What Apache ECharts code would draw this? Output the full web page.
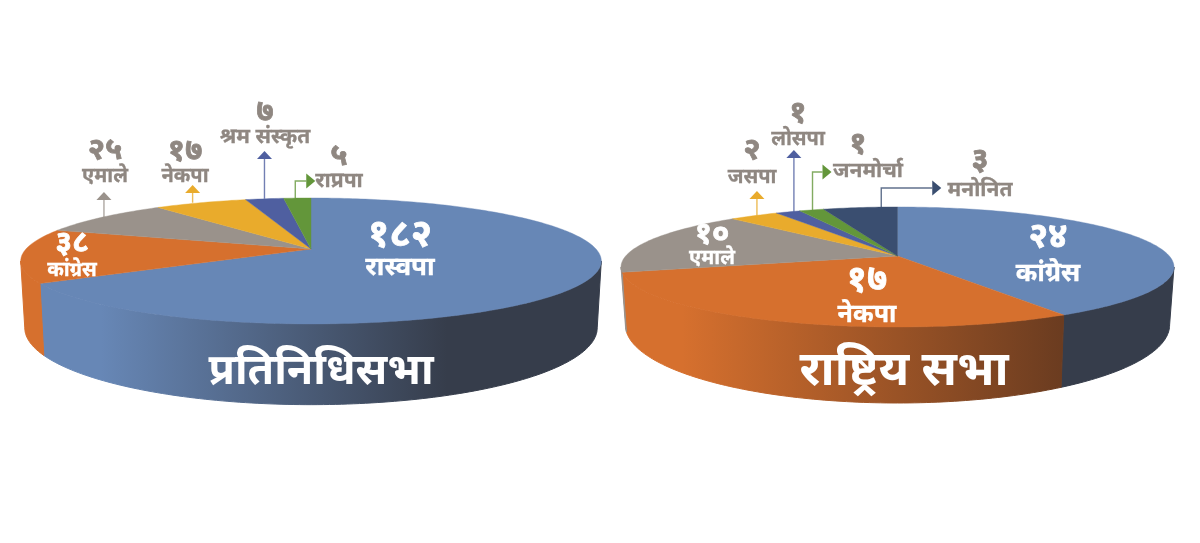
<!DOCTYPE html>
<html><head><meta charset="utf-8">
<style>html,body{margin:0;padding:0;background:#fff}#c{width:1200px;height:543px}</style>
<script src="https://cdn.jsdelivr.net/npm/echarts@6/dist/echarts.min.js"></script>
</head><body><div id="c"></div>
<script>
// ---- data ----
const houseParties = ['रास्वपा','कांग्रेस','एमाले','नेकपा','श्रम संस्कृत','राप्रपा'];
const houseSeats   = [182,38,25,17,7,5];
const senateParties = ['कांग्रेस','नेकपा','एमाले','जसपा','लोसपा','जनमोर्चा','मनोनित'];
const senateSeats   = [24,17,10,2,1,1,3];
const chartTitles = ['प्रतिनिधिसभा','राष्ट्रिय सभा'];

// ---- layout / style ----
const FONT = '"Noto Sans","Noto Sans Devanagari","Lohit Devanagari","Mukta","Hind",sans-serif';
const BLUE='#6787b6',ORANGE='#d6702e',GREY='#9a928b',YEL='#e9ab2c',IND='#4f5fa0',GRN='#63963a',NAVY='#3a4e70',DARK='#363d4b',LABEL='#8f8781';
function hGrad(x0,x1,stops){return new echarts.graphic.LinearGradient(x0,0,x1,0,stops,true);}
const houseLayout = {
  cx:311, top:{f:285,g:60.7,k:0.19,c:249}, bottom:{f:281,g:74,k:0.19,c:313.3},
  fills:[BLUE,ORANGE,GREY,YEL,IND,GRN],
  sides:[hGrad(40,447,[{offset:0,color:BLUE},{offset:0.15,color:BLUE},{offset:1,color:DARK}]),ORANGE,GREY,YEL,IND,GRN],
  labels:[
    {x:400,ny:235,ns:38,ty:268,ts:26,c:'#fff'},
    {x:72,ny:243,ns:30,ty:270,ts:20,c:'#fff'},
    {x:105,ny:150,ns:31,ty:176,ts:20,c:LABEL},
    {x:185,ny:151,ns:31,ty:176,ts:20,c:LABEL},
    {x:265,ny:112,ns:31,ty:137,ts:21,c:LABEL},
    {x:339,ny:156,ns:31,ty:181,ts:21,c:LABEL}],
  leaders:[null,null,{tip:192,dx:2},{tip:185,dx:-8},{tip:151,dx:0},{tip:181,dx:-2,elbow:11}]
};
const senateLayout = {
  cx:897.5, top:{f:271.8,g:58,k:0.183,c:256}, bottom:{f:267.5,g:75.4,k:0.183,c:310.7},
  fills:[BLUE,ORANGE,GREY,YEL,IND,GRN,NAVY],
  sides:[DARK,hGrad(640,1062,[{offset:0,color:ORANGE},{offset:0.1,color:ORANGE},{offset:1,color:'#6b3c20'}]),GREY,YEL,IND,GRN,NAVY],
  labels:[
    {x:1048,ny:237,ns:35,ty:274,ts:26,c:'#fff'},
    {x:867,ny:281,ns:36,ty:315,ts:25,c:'#fff'},
    {x:712,ny:234,ns:31,ty:258,ts:20,c:'#fff'},
    {x:752,ny:150,ns:31,ty:177,ts:20,c:LABEL},
    {x:798,ny:113,ns:31,ty:139,ts:20,c:LABEL},
    {x:858,ny:144,ns:31,ty:171,ts:21,c:LABEL,tx:868},
    {x:980,ny:160,ns:31,ty:190,ts:21,c:LABEL}],
  leaders:[null,null,null,{tip:191,dx:3},{tip:150,dx:6},{tip:172,dx:1,elbow:10},{tip:188,dx:21,elbow:51}]
};

const DEV='०१२३४५६७८९';
const toDev = n => String(n).replace(/\d/g,d=>DEV[d]);
function proj(p,cx,deg){
  const a=deg*Math.PI/180,u=Math.sin(a),v=Math.cos(a),w=1/(1+p.k*v);
  return [cx+p.f*u*w,p.c-p.g*v*w];
}
function makeRender(values,names,L){
  const total=values.reduce((a,b)=>a+b,0);
  return function(params,api){
    const i=params.dataIndex,val=api.value(0);
    const before=values.slice(0,i).reduce((a,b)=>a+b,0);
    const a0=before/total*360,a1=(before+val)/total*360;
    const kids=[];
    const limit=Math.acos(-L.top.k)*180/Math.PI, s0=Math.max(a0,limit), s1=Math.min(a1,360-limit);
    if(s1>s0){
      const pts=[];
      for(let d=s0;d<s1;d+=1)pts.push(proj(L.top,L.cx,d));
      pts.push(proj(L.top,L.cx,s1));
      const back=[];
      for(let d=s0;d<s1;d+=1)back.push(proj(L.bottom,L.cx,d));
      back.push(proj(L.bottom,L.cx,s1));
      kids.push({type:'polygon',z2:1,shape:{points:pts.concat(back.reverse())},style:{fill:L.sides[i],stroke:L.sides[i],lineWidth:1}});
    }
    const top=[[L.cx,L.top.c]];
    for(let d=a0;d<a1;d+=1)top.push(proj(L.top,L.cx,d));
    top.push(proj(L.top,L.cx,a1));
    kids.push({type:'polygon',z2:2,shape:{points:top},style:{fill:L.fills[i],stroke:L.fills[i],lineWidth:0.4}});
    const ld=L.leaders[i];
    if(ld){
      const rim=proj(L.top,L.cx,(a0+a1)/2),x=rim[0]+ld.dx,c=L.fills[i];
      if(ld.elbow){
        const end=x+ld.elbow;
        kids.push({type:'polyline',z2:1,shape:{points:[[x,rim[1]],[x,ld.tip],[end,ld.tip]]},style:{stroke:c,lineWidth:1.4,fill:null,opacity:0.8}});
        kids.push({type:'polygon',z2:3,shape:{points:[[end,ld.tip-7.5],[end+9,ld.tip],[end,ld.tip+7.5]]},style:{fill:c}});
      }else{
        kids.push({type:'line',z2:1,shape:{x1:x,y1:rim[1],x2:x,y2:ld.tip+8},style:{stroke:c,lineWidth:1.4,opacity:0.8}});
        kids.push({type:'polygon',z2:3,shape:{points:[[x,ld.tip],[x+7.5,ld.tip+8],[x-7.5,ld.tip+8]]},style:{fill:c}});
      }
    }
    const t=L.labels[i];
    kids.push({type:'text',z2:5,style:{text:toDev(val),x:t.x,y:t.ny,align:'center',verticalAlign:'middle',fill:t.c,stroke:t.c,lineWidth:0.8,font:'bold '+t.ns+'px '+FONT}});
    kids.push({type:'text',z2:5,style:{text:names[i],x:t.tx||t.x,y:t.ty,align:'center',verticalAlign:'middle',fill:t.c,stroke:t.c,lineWidth:0.3,font:'bold '+t.ts+'px '+FONT}});
    return {type:'group',children:kids};
  };
}
const chart=echarts.init(document.getElementById('c'),null,{renderer:'canvas'});
chart.setOption({
  animation:false,
  backgroundColor:'#fff',
  title:[
    {text:chartTitles[0],left:316,top:345,textAlign:'center',z:10,textStyle:{color:'#fff',fontSize:43,fontWeight:'bold',fontFamily:FONT}},
    {text:chartTitles[1],left:899,top:342,textAlign:'center',z:10,textStyle:{color:'#fff',fontSize:48,fontWeight:'bold',fontFamily:FONT}}
  ],
  series:[
    {type:'custom',coordinateSystem:'none',silent:true,data:houseSeats,renderItem:makeRender(houseSeats,houseParties,houseLayout)},
    {type:'custom',coordinateSystem:'none',silent:true,data:senateSeats,renderItem:makeRender(senateSeats,senateParties,senateLayout)}
  ]
});
</script></body></html>
